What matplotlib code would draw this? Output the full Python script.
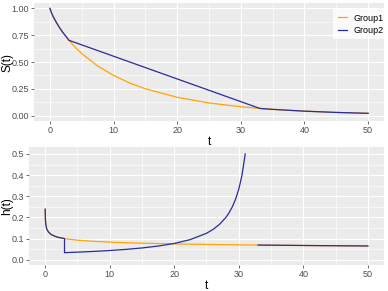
import numpy as np
import matplotlib
matplotlib.use("Agg")
import matplotlib.pyplot as plt
from matplotlib.lines import Line2D

plt.rcParams['font.family'] = ['Liberation Sans', 'DejaVu Sans']

# ---- data ----
t1_S = [0, 0.25, 0.5, 1, 1.5, 2, 3, 4, 5, 7.5, 10, 12.5, 15, 20, 25, 30, 33, 35, 40, 45, 50]
S1 = [1.0, 0.958, 0.925, 0.870, 0.821, 0.778, 0.702, 0.636, 0.579, 0.463, 0.375,
      0.305, 0.250, 0.171, 0.118, 0.083, 0.067, 0.0585, 0.0417, 0.0298, 0.0216]

t2_S = [0, 0.25, 0.5, 1, 1.5, 2, 3, 33, 35, 40, 45, 50]
S2 = [1.0, 0.958, 0.925, 0.870, 0.821, 0.778, 0.702, 0.067, 0.0585, 0.0417, 0.0298, 0.0216]

t1_h = [0.01, 0.02, 0.05, 0.1, 0.2, 0.3, 0.5, 0.75, 1, 1.5, 2, 3, 4, 5, 7.5, 10, 12.5,
        15, 20, 25, 30, 33, 35, 40, 45, 50]
h1 = [0.239, 0.215, 0.187, 0.168, 0.151, 0.142, 0.132, 0.124, 0.118, 0.111, 0.106, 0.100,
      0.0957, 0.0925, 0.0869, 0.0832, 0.0804, 0.0782, 0.0748, 0.0723, 0.0703, 0.0693,
      0.0687, 0.0673, 0.0661, 0.0650]

t2_h = [0.01, 0.02, 0.05, 0.1, 0.2, 0.3, 0.5, 0.75, 1, 1.5, 2, 3, 3, 5, 7.5, 10, 12.5,
        15, 17.5, 20, 22.5, 25, 26, 27, 28, 28.5, 29, 29.5, 30, 30.5, 31,
        32, 33, 35, 40, 45, 50]
h2 = [0.239, 0.215, 0.187, 0.168, 0.151, 0.142, 0.132, 0.124, 0.118, 0.111, 0.106, 0.100,
      0.0333, 0.0357, 0.0392, 0.0435, 0.0488, 0.0556, 0.0645, 0.0769, 0.0952, 0.125,
      0.1429, 0.1667, 0.200, 0.222, 0.250, 0.286, 0.333, 0.400, 0.500,
      np.nan, 0.0693, 0.0687, 0.0673, 0.0661, 0.0650]

groups = ["Group1", "Group2"]
colors = ["#FFA500", "#2B2B9B"]

# ---- figure ----
fig = plt.figure(figsize=(3.88, 2.91), dpi=100)
W, H = 388, 291

def mk_ax(l, t, r, b):
    return fig.add_axes([l / W, 1 - b / H, (r - l) / W, (b - t) / H])

ax1 = mk_ax(34, 3, 384, 121)
ax2 = mk_ax(29, 147, 384, 265)

def style(ax, xmaj, xmin, ymaj, ymin, fmt):
    ax.set_facecolor("#EBEBEB")
    for s in ax.spines.values():
        s.set_visible(False)
    ax.set_xticks(xmaj)
    ax.set_xticks(xmin, minor=True)
    ax.set_yticks(ymaj)
    ax.set_yticks(ymin, minor=True)
    ax.set_yticklabels([fmt.format(v) for v in ymaj])
    ax.grid(which="major", color="white", lw=0.8)
    ax.grid(which="minor", color="white", lw=0.4)
    ax.set_axisbelow(True)
    ax.tick_params(which="major", length=2, width=0.5, color="#333333",
                   labelsize=6.5, labelcolor="#4D4D4D", pad=1.5)
    ax.tick_params(which="minor", length=0)

xmaj = [0, 10, 20, 30, 40, 50]
xmin = [5, 15, 25, 35, 45]

ax1.plot(t1_S, S1, color=colors[0], lw=0.9)
ax1.plot(t2_S, S2, color=colors[1], lw=0.9)
ax1.set_xlim(-2.5, 52.5)
ax1.set_ylim(-0.05, 1.05)
style(ax1, xmaj, xmin, [0, 0.25, 0.5, 0.75, 1.0], [0.125, 0.375, 0.625, 0.875], "{:.2f}")
ax1.set_xlabel("t", fontsize=8.5, labelpad=0.5)
ax1.set_ylabel("S(t)", fontsize=8.5)
ax1.yaxis.set_label_coords((13 - 34) / 350, 0.5)

ax2.plot(t1_h, h1, color=colors[0], lw=0.9)
ax2.plot(t2_h, h2, color=colors[1], lw=0.9)
ax2.set_xlim(-2.5, 52.5)
ax2.set_ylim(-0.025, 0.533)
style(ax2, xmaj, xmin, [0, 0.1, 0.2, 0.3, 0.4, 0.5],
      [0.05, 0.15, 0.25, 0.35, 0.45], "{:.1f}")
ax2.set_xlabel("t", fontsize=8.5, labelpad=0.5)
ax2.set_ylabel("h(t)", fontsize=8.5)
ax2.yaxis.set_label_coords((13 - 29) / 355, 0.5)

handles = [Line2D([0], [0], color=c, lw=0.9) for c in colors]
leg = fig.legend(handles, groups, loc="upper left",
                 bbox_to_anchor=(333 / W, 1 - 9 / H), fontsize=6.5,
                 frameon=True, fancybox=False, handlelength=1.0,
                 handletextpad=0.8, borderpad=0.5, labelspacing=0.35,
                 borderaxespad=0)
leg.get_frame().set_edgecolor("none")
leg.get_frame().set_facecolor("white")

fig.savefig("out.png", dpi=100)
